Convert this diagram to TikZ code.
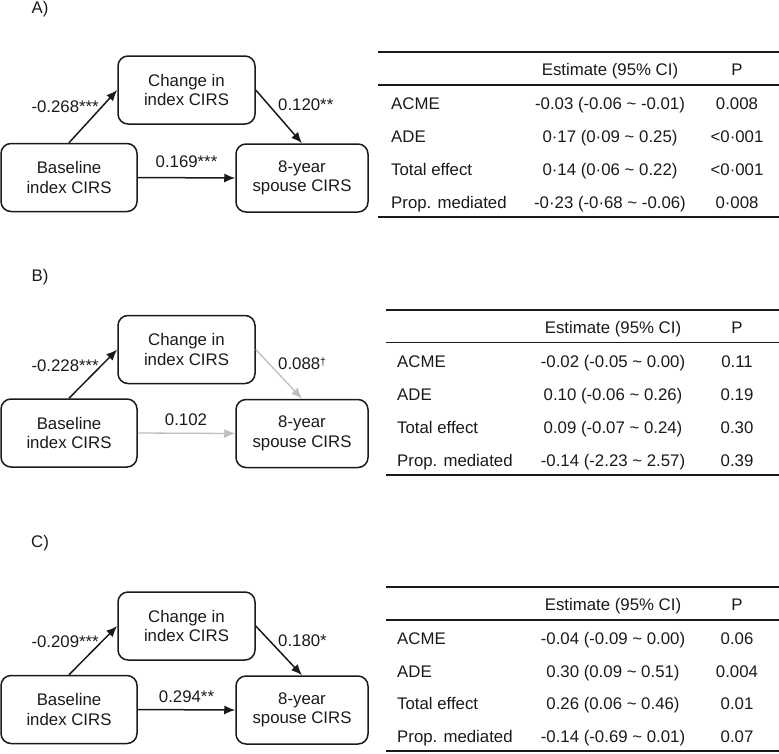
\documentclass[tikz,border=0pt]{standalone}
\usepackage{fontspec}
\setmainfont{Liberation Sans}
\usetikzlibrary{arrows.meta}
\definecolor{ink}{HTML}{1A1A1A}
\definecolor{lite}{HTML}{BEBEBE}
\newcommand{\tld}{\char"7E\relax}
\newcommand{\dagsup}{\raisebox{4.5pt}{\fontsize{10.5}{10.5}\selectfont †}}
\begin{document}
\begin{tikzpicture}[x=1pt,y=-1pt,
  txt/.style={font=\fontsize{16.8}{19.3}\selectfont, text=ink, inner sep=0pt},
  box/.style={txt, draw=ink, line width=1.5pt, rounded corners=10pt, minimum height=68pt, align=center},
  mbox/.style={box, minimum width=137pt},
  bbox/.style={box, minimum width=136pt},
  sbox/.style={box, minimum width=132pt},
  arr/.style={draw=ink, line width=1.5pt, -{Latex[length=11pt,width=9pt]}},
  garr/.style={draw=lite, line width=1.3pt, -{Latex[length=11pt,width=9pt]}},
  trule/.style={draw=ink, line width=1.9pt},
  mrule/.style={draw=ink, line width=1.5pt},
  cell/.style={txt, anchor=base},
  lcell/.style={txt, anchor=base west}
]
\useasboundingbox (0,0) rectangle (779,753);

% ---------------- Panel A ----------------
\node[txt] (labA) at (40,9) {A)};
\node[mbox] (mA) at (186.5,90) {Change in\\index CIRS};
\node[bbox] (bA) at (69,177.5) {Baseline\\index CIRS};
\node[sbox] (sA) at (302,178) {8-year\\spouse CIRS};
\draw[arr] (bA.north) -- (mA.west);
\draw[arr] (mA.east) -- (sA.north);
\draw[arr] (bA.east) -- (sA.west);
\node[txt, anchor=east] (pA1) at (99,106.5) {-0.268***};
\node[txt, anchor=west] (pA2) at (278,104.5) {0.120**};
\node[txt] (pA3) at (186.5,162) {0.169***};

\coordinate (tA1) at (378,52); \coordinate (tA1e) at (779,52);
\coordinate (tA2) at (378,85); \coordinate (tA2e) at (779,85);
\coordinate (tA3) at (378,217); \coordinate (tA3e) at (779,217);
\draw[trule] (tA1) -- (tA1e);
\draw[mrule] (tA2) -- (tA2e);
\draw[trule] (tA3) -- (tA3e);
\node[cell] (hA1) at (610,75.5) {Estimate (95\% CI)};
\node[cell] (hA2) at (737,75.5) {P};
\node[lcell] (rA1) at (391,109) {ACME};
\node[cell] (eA1) at (610,109) {-0.03 (-0.06 \tld\ -0.01)};
\node[cell] (qA1) at (737,109) {0.008};
\node[lcell] (rA2) at (391,142) {ADE};
\node[cell] (eA2) at (610,142) {0·17 (0·09 \tld\ 0.25)};
\node[cell] (qA2) at (737,142) {<0·001};
\node[lcell] (rA3) at (391,175) {Total effect};
\node[cell] (eA3) at (610,175) {0·14 (0·06 \tld\ 0.22)};
\node[cell] (qA3) at (737,175) {<0·001};
\node[lcell] (rA4) at (391,208) {Prop. mediated};
\node[cell] (eA4) at (610,208) {-0·23 (-0·68 \tld\ -0.06)};
\node[cell] (qA4) at (737,208) {0·008};

% ---------------- Panel B ----------------
\node[txt] (labB) at (40,277) {B)};
\node[mbox] (mB) at (186.5,349.5) {Change in\\index CIRS};
\node[bbox] (bB) at (69,433) {Baseline\\index CIRS};
\node[sbox] (sB) at (302,433.5) {8-year\\spouse CIRS};
\draw[arr] (bB.north) -- (mB.west);
\draw[garr] (mB.east) -- (sB.north);
\draw[garr] (bB.east) -- (sB.west);
\node[txt, anchor=east] (pB1) at (99,366) {-0.228***};
\node[txt, anchor=west] (pB2) at (278,364) {0.088\dagsup};
\node[txt] (pB3) at (186,419.5) {0.102};

\coordinate (tB1) at (386,310); \coordinate (tB1e) at (779,310);
\coordinate (tB2) at (386,342.5); \coordinate (tB2e) at (779,342.5);
\coordinate (tB3) at (386,475); \coordinate (tB3e) at (779,475);
\draw[trule] (tB1) -- (tB1e);
\draw[mrule] (tB2) -- (tB2e);
\draw[trule] (tB3) -- (tB3e);
\node[cell] (hB1) at (613,333.5) {Estimate (95\% CI)};
\node[cell] (hB2) at (737,333.5) {P};
\node[lcell] (rB1) at (397,367) {ACME};
\node[cell] (eB1) at (613,367) {-0.02 (-0.05 \tld\ 0.00)};
\node[cell] (qB1) at (737,367) {0.11};
\node[lcell] (rB2) at (397,400) {ADE};
\node[cell] (eB2) at (613,400) {0.10 (-0.06 \tld\ 0.26)};
\node[cell] (qB2) at (737,400) {0.19};
\node[lcell] (rB3) at (397,433) {Total effect};
\node[cell] (eB3) at (613,433) {0.09 (-0.07 \tld\ 0.24)};
\node[cell] (qB3) at (737,433) {0.30};
\node[lcell] (rB4) at (397,466) {Prop. mediated};
\node[cell] (eB4) at (613,466) {-0.14 (-2.23 \tld\ 2.57)};
\node[cell] (qB4) at (737,466) {0.39};

% ---------------- Panel C ----------------
\node[txt] (labC) at (40,543) {C)};
\node[mbox] (mC) at (186.5,626) {Change in\\index CIRS};
\node[bbox] (bC) at (69,709.5) {Baseline\\index CIRS};
\node[sbox] (sC) at (302,710) {8-year\\spouse CIRS};
\draw[arr] (bC.north) -- (mC.west);
\draw[arr] (mC.east) -- (sC.north);
\draw[arr] (bC.east) -- (sC.west);
\node[txt, anchor=east] (pC1) at (99,642) {-0.209***};
\node[txt, anchor=west] (pC2) at (278,641) {0.180*};
\node[txt] (pC3) at (186.5,697) {0.294**};

\coordinate (tC1) at (386,587); \coordinate (tC1e) at (779,587);
\coordinate (tC2) at (386,620); \coordinate (tC2e) at (779,620);
\coordinate (tC3) at (386,751); \coordinate (tC3e) at (779,751);
\draw[trule] (tC1) -- (tC1e);
\draw[mrule] (tC2) -- (tC2e);
\draw[trule] (tC3) -- (tC3e);
\node[cell] (hC1) at (613,610) {Estimate (95\% CI)};
\node[cell] (hC2) at (737,610) {P};
\node[lcell] (rC1) at (397,644) {ACME};
\node[cell] (eC1) at (613,644) {-0.04 (-0.09 \tld\ 0.00)};
\node[cell] (qC1) at (737,644) {0.06};
\node[lcell] (rC2) at (397,677) {ADE};
\node[cell] (eC2) at (613,677) {0.30 (0.09 \tld\ 0.51)};
\node[cell] (qC2) at (737,677) {0.004};
\node[lcell] (rC3) at (397,709) {Total effect};
\node[cell] (eC3) at (613,709) {0.26 (0.06 \tld\ 0.46)};
\node[cell] (qC3) at (737,709) {0.01};
\node[lcell] (rC4) at (397,742) {Prop. mediated};
\node[cell] (eC4) at (613,742) {-0.14 (-0.69 \tld\ 0.01)};
\node[cell] (qC4) at (737,742) {0.07};
\end{tikzpicture}
\end{document}
